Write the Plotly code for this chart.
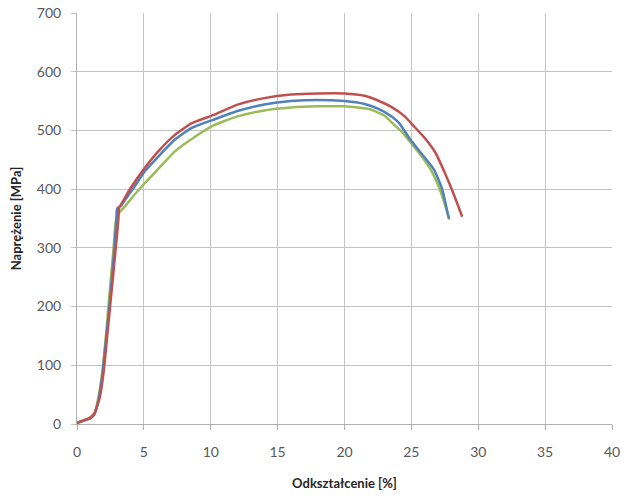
import plotly.graph_objects as go

red_x = [0, 0.5, 1.0, 1.3, 1.7, 2.0, 2.3, 2.6, 2.9, 3.1, 3.15, 3.4, 3.7, 4.07, 5.06, 6.06, 7.3, 8.55, 10.17, 12.0, 14.0, 16.0, 18.0, 20.0, 21.5, 22.5, 23.5, 24.5, 25.2, 26.0, 26.8, 27.4, 28.1, 28.8]
red_y = [2, 6, 10, 18, 45, 90, 160, 230, 300, 350, 368, 378, 390, 404, 436, 464, 492, 512, 526, 544, 555, 561, 563, 563, 559, 551, 540, 524, 507, 487, 462, 433, 395, 353]

blue_x = [0, 0.5, 1.0, 1.3, 1.6, 1.9, 2.2, 2.5, 2.8, 2.95, 3.0, 3.3, 3.57, 4.2, 5.06, 6.06, 7.3, 8.55, 10.17, 12.0, 14.0, 16.0, 18.0, 20.0, 21.5, 22.5, 23.5, 24.1, 24.9, 25.6, 26.7, 27.3, 27.8]
blue_y = [2, 6, 10, 16, 40, 85, 150, 220, 300, 350, 367, 372, 381, 401, 430, 455, 484, 504, 518, 533, 544, 550, 552, 550, 545, 537, 524, 512, 485, 465, 433, 400, 350]

green_x = [0, 0.5, 1.0, 1.3, 1.6, 1.9, 2.2, 2.5, 2.7, 2.87, 3.0, 3.32, 3.6, 4.2, 5.06, 6.06, 7.3, 8.55, 10.17, 12.0, 14.0, 16.0, 18.0, 20.0, 21.9, 23.0, 23.6, 24.3, 25.1, 25.8, 26.6, 27.2, 27.85]
green_y = [2, 6, 12, 18, 45, 90, 160, 240, 290, 340, 356, 364, 371, 388, 410, 434, 464, 485, 508, 524, 534, 539, 541, 541, 536, 525, 512, 497, 475, 455, 427, 395, 348]

x_ticks = [0, 5, 10, 15, 20, 25, 30, 35, 40]
y_ticks = [0, 100, 200, 300, 400, 500, 600, 700]

fig = go.Figure()
for xs, ys, col in [(green_x, green_y, "#9BBB59"), (blue_x, blue_y, "#4F81BD"), (red_x, red_y, "#C0504D")]:
    fig.add_trace(go.Scatter(x=xs, y=ys, mode="lines", line=dict(color=col, width=2.5, shape="spline", smoothing=0.5), showlegend=False))

font_fam = "Lato, Open Sans, sans-serif"
fig.update_layout(
    width=627, height=497,
    margin=dict(l=77, r=15, t=13, b=73),
    paper_bgcolor="white", plot_bgcolor="white",
    font=dict(family=font_fam, size=13, color="#595959"),
    xaxis=dict(range=[0, 40], tickvals=x_ticks, showgrid=True, gridcolor="#C4C4C4", gridwidth=1,
               showline=True, linecolor="#B0B0B0", linewidth=1, ticks="outside", ticklen=5, tickcolor="#B0B0B0",
               zeroline=False, automargin=False, ticklabelstandoff=10, tickfont=dict(size=14, color="#595959"),
               title=dict(text="<b>Odkształcenie [%]</b>", font=dict(size=13, color="#262626"), standoff=20)),
    yaxis=dict(range=[0, 700], tickvals=y_ticks, showgrid=True, gridcolor="#C4C4C4", gridwidth=1,
               showline=True, linecolor="#B0B0B0", linewidth=1, ticks="outside", ticklen=5, tickcolor="#C4C4C4",
               zeroline=False, automargin=False, ticklabelstandoff=7, tickfont=dict(size=14, color="#595959"),
               title=dict(text="<b>Naprężenie [MPa]</b>", font=dict(size=13, color="#262626"), standoff=12)),
)
fig.write_html("out.html", config={"displayModeBar": False}, post_script="document.body.style.margin='0';")
